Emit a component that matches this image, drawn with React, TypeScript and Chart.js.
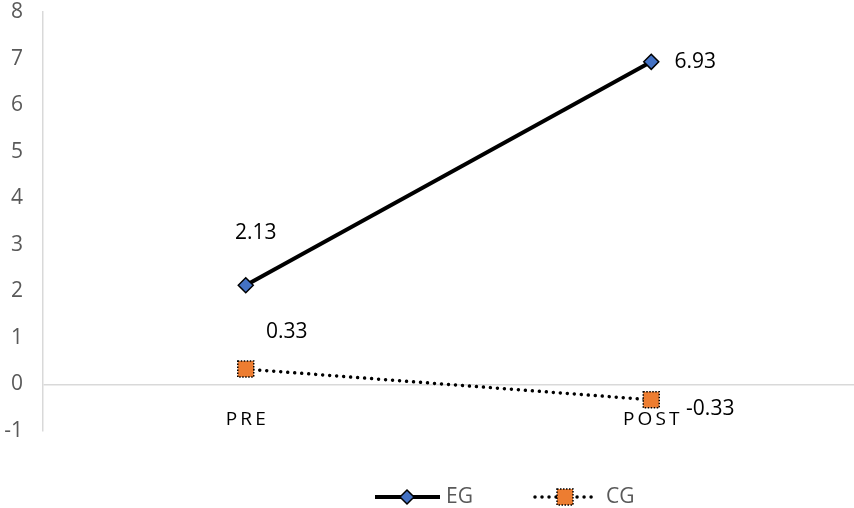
import React, { useEffect, useRef } from 'react';
import { Chart, registerables } from 'chart.js';

Chart.register(...registerables);

const categories = ['PRE', 'POST'];
const egValues = [2.13, 6.93];
const cgValues = [0.33, -0.33];
const seriesNames = ['EG', 'CG'];
const yMin = -1;
const yMax = 8;
const yStep = 1;

const FONT = '"Open Sans", "Noto Sans", sans-serif';
const BLUE = '#4472C4';
const ORANGE = '#ED7D31';

// label offsets (style only), per dataset, per point
const labelOffsets = [
  [[10, -52], [44, 0]],
  [[41, -37], [59, 9]],
];

const fmt = (v: number) => v.toFixed(2);

const dotBorderPlugin = {
  id: 'dotBorder',
  beforeDatasetDraw(chart: any, args: any) {
    if (args.index === 1) {
      chart.ctx.save();
      chart.ctx.setLineDash([1.5, 1.5]);
    }
  },
  afterDatasetDraw(chart: any, args: any) {
    if (args.index === 1) {
      chart.ctx.restore();
    }
  },
};

const labelsPlugin = {
  id: 'valueLabels',
  afterDatasetsDraw(chart: any) {
    const ctx = chart.ctx;
    ctx.save();
    ctx.font = `21px ${FONT}`;
    ctx.fillStyle = '#000';
    ctx.textAlign = 'center';
    ctx.textBaseline = 'middle';
    chart.data.datasets.forEach((ds: any, di: number) => {
      const meta = chart.getDatasetMeta(di);
      meta.data.forEach((pt: any, i: number) => {
        const [dx, dy] = labelOffsets[di][i];
        ctx.fillText(fmt(ds.data[i]), pt.x + dx, pt.y + dy);
      });
    });
    ctx.restore();
  },
};

const legendPlugin = {
  id: 'customLegend',
  afterDraw(chart: any) {
    const ctx = chart.ctx;
    const y = 497;
    ctx.save();
    // EG
    ctx.strokeStyle = '#000';
    ctx.lineWidth = 4;
    ctx.beginPath();
    ctx.moveTo(375, y);
    ctx.lineTo(440, y);
    ctx.stroke();
    const dx = 407;
    const r = 7;
    ctx.beginPath();
    ctx.moveTo(dx, y - r);
    ctx.lineTo(dx + r, y);
    ctx.lineTo(dx, y + r);
    ctx.lineTo(dx - r, y);
    ctx.closePath();
    ctx.fillStyle = BLUE;
    ctx.fill();
    ctx.lineWidth = 1.5;
    ctx.stroke();
    // CG
    ctx.lineWidth = 3.5;
    ctx.lineCap = 'round';
    ctx.setLineDash([0.01, 7]);
    ctx.beginPath();
    ctx.moveTo(535, y);
    ctx.lineTo(598, y);
    ctx.stroke();
    ctx.setLineDash([1.5, 1.5]);
    ctx.lineCap = 'butt';
    ctx.fillStyle = ORANGE;
    ctx.fillRect(557, y - 8, 16, 16);
    ctx.lineWidth = 1.5;
    ctx.strokeRect(557, y - 8, 16, 16);
    ctx.setLineDash([]);
    ctx.font = `21px ${FONT}`;
    ctx.fillStyle = '#595959';
    ctx.textAlign = 'left';
    ctx.textBaseline = 'middle';
    ctx.fillText(seriesNames[0], 446, y);
    ctx.fillText(seriesNames[1], 606, y);
    ctx.restore();
  },
};

export default function App() {
  const ref = useRef<HTMLCanvasElement>(null);
  useEffect(() => {
    if (!ref.current) return;
    const chart = new Chart(ref.current, {
      type: 'line',
      data: {
        labels: categories,
        datasets: [
          {
            label: seriesNames[0],
            data: egValues,
            borderColor: '#000',
            borderWidth: 4,
            pointStyle: 'rectRot',
            pointRadius: 7.5,
            pointBackgroundColor: BLUE,
            pointBorderColor: '#000',
            pointBorderWidth: 1.5,
            tension: 0,
          },
          {
            label: seriesNames[1],
            data: cgValues,
            borderColor: '#000',
            borderWidth: 3.5,
            borderDash: [0.01, 7],
            borderCapStyle: 'round',
            pointStyle: 'rect',
            pointRadius: 11.3,
            pointBackgroundColor: ORANGE,
            pointBorderColor: '#000',
            pointBorderWidth: 1.5,
            tension: 0,
          },
        ],
      },
      options: {
        responsive: false,
        animation: false,
        layout: { autoPadding: false, padding: { top: 12, bottom: 77, left: 0, right: 0 } },
        plugins: {
          legend: { display: false },
          tooltip: { enabled: false },
        },
        scales: {
          x: {
            type: 'category',
            position: { y: 0 } as any,
            offset: true,
            grid: { display: false },
            border: { display: false },
            afterFit: (s: any) => {
              s.paddingLeft = 0;
              s.paddingRight = 0;
            },
            ticks: {
              color: '#000',
              font: { family: FONT, size: 19 },
              padding: 16,
              callback: (v: any, i: number) => categories[i].split('').join('\u2009'),
            },
          },
          y: {
            min: yMin,
            max: yMax,
            afterFit: (s: any) => {
              s.width = 43;
              s.paddingTop = 0;
              s.paddingBottom = 0;
            },
            ticks: {
              stepSize: yStep,
              color: '#595959',
              font: { family: FONT, size: 21 },
              padding: 20,
            },
            grid: {
              drawTicks: false,
              color: (c: any) => (c.tick && c.tick.value === 0 ? '#d9d9d9' : 'rgba(0,0,0,0)'),
              lineWidth: 1.5,
            },
            border: { display: true, color: '#d9d9d9', width: 1.5 },
          },
        },
      },
      plugins: [dotBorderPlugin, labelsPlugin, legendPlugin],
    });
    return () => chart.destroy();
  }, []);
  return (
    <div style={{ position: 'fixed', left: 0, top: 0, width: 854, height: 508, background: '#fff' }}>
      <canvas ref={ref} width={854} height={508} />
    </div>
  );
}
